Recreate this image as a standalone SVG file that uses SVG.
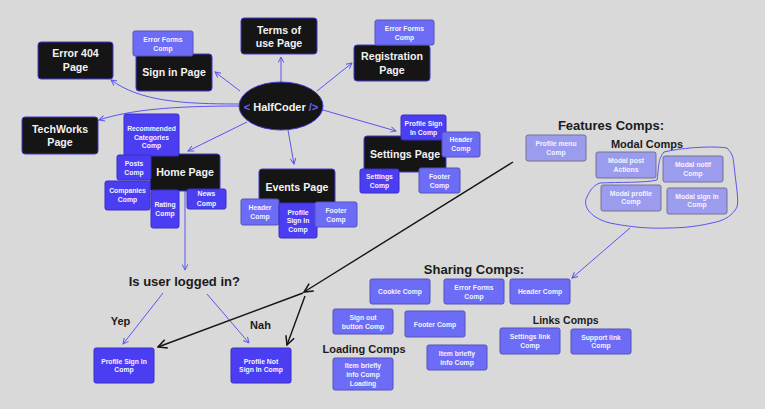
<svg xmlns="http://www.w3.org/2000/svg" width="765" height="409" viewBox="0 0 765 409">
<style>
.pg{fill:#151515;stroke:#3f3ad0;stroke-width:1}
.pt{font-family:"Liberation Sans",Arial,sans-serif;font-weight:bold;font-size:10.6px;fill:#f2f2f2;text-anchor:middle}
.cs{fill:#4a3df2;stroke:#3a2fc0;stroke-width:1}
.cm{fill:#6d6cf6;stroke:#5552b8;stroke-width:1}
.cf{fill:#9b9cee;stroke:#72728e;stroke-width:1}
.ct{font-family:"Liberation Sans",Arial,sans-serif;font-weight:bold;font-size:6.8px;fill:#f4f4ff;text-anchor:middle}
.h1{font-family:"Liberation Sans",Arial,sans-serif;font-weight:bold;font-size:13px;fill:#1b1b1b;text-anchor:middle}
.h2{font-family:"Liberation Sans",Arial,sans-serif;font-weight:bold;font-size:11px;fill:#1b1b1b;text-anchor:middle}
.eb{fill:none;stroke:#5b54f2;stroke-width:1}
.ek{fill:none;stroke:#141414;stroke-width:1.4}
</style>
<defs>
<marker id="ab" viewBox="0 0 10 10" refX="9" refY="5" markerWidth="7" markerHeight="7" orient="auto" markerUnits="userSpaceOnUse"><path d="M1,1 L9,5 L1,9" fill="none" stroke="#5b54f2" stroke-width="1.4"/></marker>
<marker id="ak" viewBox="0 0 10 10" refX="9" refY="5" markerWidth="11" markerHeight="11" orient="auto" markerUnits="userSpaceOnUse"><path d="M1,1 L9,5 L1,9" fill="none" stroke="#141414" stroke-width="1.4"/></marker>
</defs>
<rect x="0" y="0" width="765" height="409" fill="#d9d9d9"/>

<g id="connectors">
<path class="eb" d="M281,82 L281,57" marker-end="url(#ab)"/>
<path class="eb" d="M317,91 L352,63" marker-end="url(#ab)"/>
<path class="eb" d="M240,91 L215,72" marker-end="url(#ab)"/>
<path class="eb" d="M240,104 C180,104 140,101 111,80" marker-end="url(#ab)"/>
<path class="eb" d="M240,106 C170,106 130,110 99,120" marker-end="url(#ab)"/>
<path class="eb" d="M247,122 L188,151" marker-end="url(#ab)"/>
<path class="eb" d="M288,130 L294,164" marker-end="url(#ab)"/>
<path class="eb" d="M323,110 L396,131" marker-end="url(#ab)"/>
<path class="eb" d="M185,191 L185,270" marker-end="url(#ab)"/>
<path class="eb" d="M163,293 L123,344" marker-end="url(#ab)"/>
<path class="eb" d="M207,294 L249,343" marker-end="url(#ab)"/>
<path class="eb" d="M630,228 L572,278" marker-end="url(#ab)"/>
<path class="eb" d="M600,183 C620,182 645,183 657,180 C659,170 657,160 664,152 C685,147 715,146 727,148 C734,155 733,160 734,165 C736,185 739,200 737,207 C733,215 725,220 716,222 C700,226 685,228 667,228 C645,229 625,226 610,223 C598,220 592,215 588,210 C585,205 585,200 587,197 C590,190 594,185 600,183 Z"/>
<path class="ek" d="M513,162 L304,292" marker-end="url(#ak)"/>
<path class="ek" d="M303,293 L158,347" marker-end="url(#ak)"/>
<path class="ek" d="M305,296 L287,345" marker-end="url(#ak)"/>
</g>

<g id="error404"><rect class="pg" x="38" y="42" width="75" height="37" rx="3"/><text class="pt" x="75.5" y="57">Error 404</text><text class="pt" x="75.5" y="70.7">Page</text></g>
<g id="signin"><rect class="pg" x="136" y="54" width="76" height="37" rx="3"/><text class="pt" x="174" y="76.4">Sign in Page</text></g>
<g id="signin-errorforms"><rect class="cm" x="133" y="31" width="60" height="25" rx="2"/><text class="ct" x="163" y="42.4">Error Forms</text><text class="ct" x="163" y="51.1">Comp</text></g>
<g id="techworks"><rect class="pg" x="22" y="117" width="76" height="37" rx="3"/><text class="pt" x="60" y="132.7">TechWorks</text><text class="pt" x="60" y="146">Page</text></g>
<g id="terms"><rect class="pg" x="241" y="18" width="76" height="36" rx="3"/><text class="pt" x="279" y="33.7">Terms of</text><text class="pt" x="279" y="47">use Page</text></g>
<g id="registration"><rect class="pg" x="354" y="45" width="76" height="36" rx="3"/><text class="pt" x="392" y="60.4">Registration</text><text class="pt" x="392" y="73.7">Page</text></g>
<g id="reg-errorforms"><rect class="cm" x="375" y="20" width="59" height="25" rx="2"/><text class="ct" x="404.5" y="31.1">Error Forms</text><text class="ct" x="404.5" y="39.7">Comp</text></g>

<g id="halfcoder"><ellipse cx="281" cy="106" rx="42" ry="24" fill="#151515" stroke="#3f3ad0" stroke-width="1"/><text x="281" y="111" style="font-family:'Liberation Sans',Arial,sans-serif;font-weight:bold;font-size:11px;text-anchor:middle;fill:#f2f2f2"><tspan fill="#6a63f5">&lt;</tspan> HalfCoder <tspan fill="#6a63f5">/&gt;</tspan></text></g>

<g id="settings"><rect class="pg" x="364" y="136" width="82" height="36" rx="3"/><text class="pt" x="405" y="158">Settings Page</text></g>
<g id="settings-profile"><rect class="cs" x="401" y="115" width="45" height="25" rx="2"/><text class="ct" x="423.5" y="126.4">Profile Sign</text><text class="ct" x="423.5" y="134.7">In Comp</text></g>
<g id="settings-header"><rect class="cm" x="442" y="132" width="38" height="25" rx="2"/><text class="ct" x="461" y="141.7">Header</text><text class="ct" x="461" y="150.7">Comp</text></g>
<g id="settings-comp"><rect class="cs" x="360" y="169" width="39" height="24" rx="2"/><text class="ct" x="379.5" y="178.7">Settings</text><text class="ct" x="379.5" y="187.7">Comp</text></g>
<g id="settings-footer"><rect class="cm" x="419" y="168" width="41" height="25" rx="2"/><text class="ct" x="439.5" y="178.7">Footer</text><text class="ct" x="439.5" y="187.7">Comp</text></g>

<g id="events"><rect class="pg" x="259" y="169" width="76" height="36" rx="3"/><text class="pt" x="297" y="190.7">Events Page</text></g>
<g id="events-header"><rect class="cm" x="241" y="199" width="38" height="26" rx="2"/><text class="ct" x="260" y="210.1">Header</text><text class="ct" x="260" y="218.7">Comp</text></g>
<g id="events-profile"><rect class="cs" x="279" y="203" width="38" height="35" rx="2"/><text class="ct" x="298" y="214.7">Profile</text><text class="ct" x="298" y="223.4">Sign In</text><text class="ct" x="298" y="232.1">Comp</text></g>
<g id="events-footer"><rect class="cm" x="315" y="202" width="42" height="25" rx="2"/><text class="ct" x="336" y="212.7">Footer</text><text class="ct" x="336" y="221.7">Comp</text></g>

<g id="home"><rect class="pg" x="150" y="154" width="70" height="37" rx="3"/><text class="pt" x="185" y="176.4">Home Page</text></g>
<g id="home-recommended"><rect class="cs" x="124" y="114" width="55" height="42" rx="2"/><text class="ct" x="151.5" y="130.7">Recommended</text><text class="ct" x="151.5" y="139.7">Categories</text><text class="ct" x="151.5" y="148.4">Comp</text></g>
<g id="home-posts"><rect class="cs" x="117" y="155" width="34" height="25" rx="2"/><text class="ct" x="134" y="166.1">Posts</text><text class="ct" x="134" y="174.7">Comp</text></g>
<g id="home-companies"><rect class="cs" x="105" y="181" width="45" height="29" rx="2"/><text class="ct" x="127.5" y="193.4">Companies</text><text class="ct" x="127.5" y="202.1">Comp</text></g>
<g id="home-rating"><rect class="cs" x="151" y="190" width="28" height="38" rx="2"/><text class="ct" x="165" y="206.7">Rating</text><text class="ct" x="165" y="215.7">Comp</text></g>
<g id="home-news"><rect class="cs" x="187" y="189" width="39" height="20" rx="2"/><text class="ct" x="206.5" y="196.4">News</text><text class="ct" x="206.5" y="205.7">Comp</text></g>

<g id="question"><text class="h1" x="184.3" y="286.3">Is user logged in?</text></g>
<g id="yep"><text class="h2" x="120.5" y="325">Yep</text></g>
<g id="nah"><text class="h2" x="260.5" y="329">Nah</text></g>
<g id="profile-signin"><rect class="cs" x="94" y="348" width="60" height="35" rx="2"/><text class="ct" x="124" y="363.7">Profile Sign In</text><text class="ct" x="124" y="372.4">Comp</text></g>
<g id="profile-notsignin"><rect class="cs" x="231" y="348" width="60" height="35" rx="2"/><text class="ct" x="261" y="363.7">Profile Not</text><text class="ct" x="261" y="372.4">Sign In Comp</text></g>

<g id="features"><text class="h1" x="611" y="130.3">Features Comps:</text><text class="h2" x="647" y="148">Modal Comps</text></g>
<g id="profile-menu"><rect class="cf" x="526" y="135" width="60" height="26" rx="2"/><text class="ct" x="556" y="145.7">Profile menu</text><text class="ct" x="556" y="154.7">Comp</text></g>
<g id="modal-post"><rect class="cf" x="596" y="152" width="60" height="26" rx="2"/><text class="ct" x="626" y="163.4">Modal post</text><text class="ct" x="626" y="172.1">Actions</text></g>
<g id="modal-notif"><rect class="cf" x="663" y="156" width="60" height="26" rx="2"/><text class="ct" x="693" y="167.1">Modal notif</text><text class="ct" x="693" y="175.7">Comp</text></g>
<g id="modal-profile"><rect class="cf" x="601" y="185" width="60" height="26" rx="2"/><text class="ct" x="631" y="195.7">Modal profile</text><text class="ct" x="631" y="204.4">Comp</text></g>
<g id="modal-signin"><rect class="cf" x="667" y="188" width="60" height="26" rx="2"/><text class="ct" x="697" y="198.7">Modal sign in</text><text class="ct" x="697" y="207.4">Comp</text></g>

<g id="sharing"><text class="h1" x="474" y="273.6">Sharing Comps:</text></g>
<g id="cookie"><rect class="cm" x="370" y="279" width="60" height="25" rx="2"/><text class="ct" x="400" y="294.4">Cookie Comp</text></g>
<g id="sharing-errorforms"><rect class="cm" x="444" y="279" width="60" height="25" rx="2"/><text class="ct" x="474" y="289.7">Error Forms</text><text class="ct" x="474" y="298.7">Comp</text></g>
<g id="sharing-header"><rect class="cm" x="510" y="279" width="60" height="25" rx="2"/><text class="ct" x="540" y="294.1">Header Comp</text></g>
<g id="signout"><rect class="cm" x="333" y="309" width="60" height="25" rx="2"/><text class="ct" x="363" y="320.1">Sign out</text><text class="ct" x="363" y="328.7">button Comp</text></g>
<g id="sharing-footer"><rect class="cm" x="405" y="311" width="60" height="26" rx="2"/><text class="ct" x="435" y="327.1">Footer Comp</text></g>
<g id="loading"><text class="h2" x="364" y="353">Loading Comps</text></g>
<g id="item-loading"><rect class="cm" x="333" y="358" width="60" height="32" rx="2"/><text class="ct" x="363" y="368.1">Item briefly</text><text class="ct" x="363" y="376.7">info Comp</text><text class="ct" x="363" y="385.7">Loading</text></g>
<g id="item-info"><rect class="cm" x="427" y="345" width="60" height="25" rx="2"/><text class="ct" x="457" y="355.7">Item briefly</text><text class="ct" x="457" y="364.7">info Comp</text></g>
<g id="links"><text class="h2" x="565.7" y="324" style="font-size:10.5px">Links Comps</text></g>
<g id="settings-link"><rect class="cm" x="500" y="328" width="60" height="26" rx="2"/><text class="ct" x="530" y="339.4">Settings link</text><text class="ct" x="530" y="348.1">Comp</text></g>
<g id="support-link"><rect class="cm" x="571" y="329" width="60" height="25" rx="2"/><text class="ct" x="601" y="339.7">Support link</text><text class="ct" x="601" y="348.4">Comp</text></g>
</svg>
